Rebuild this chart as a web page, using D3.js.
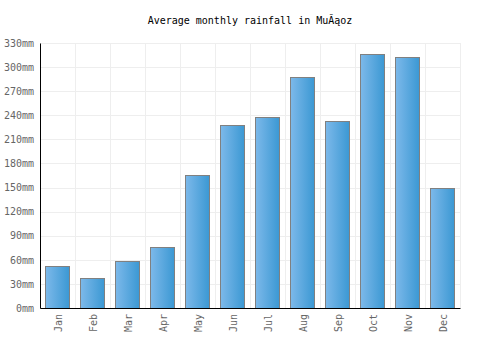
<!DOCTYPE html>
<html>
<head>
<meta charset="utf-8">
<script src="https://cdn.jsdelivr.net/npm/d3@7"></script>
<style>
  body { margin: 0; background: #fff; }
  text { font-family: "DejaVu Sans Mono", monospace; }
</style>
</head>
<body>
<div id="chart"></div>
<script>
const months = ["Jan", "Feb", "Mar", "Apr", "May", "Jun", "Jul", "Aug", "Sep", "Oct", "Nov", "Dec"]
const rainfall = [52, 37, 58, 76, 166, 228, 238, 288, 233, 316, 312, 149]
const yTicks = [0, 30, 60, 90, 120, 150, 180, 210, 240, 270, 300, 330]
const title = "Average monthly rainfall in MuĂąoz"

const width = 500, height = 350
const margin = { top: 43, right: 40, bottom: 42, left: 40 }
const boundedWidth = width - margin.left - margin.right
const boundedHeight = height - margin.top - margin.bottom

const svg = d3.select("#chart").append("svg")
    .attr("width", width)
    .attr("height", height)

// Bar gradient, light on the left to darker on the right
const grad = svg.append("defs").append("linearGradient")
    .attr("id", "barGrad")
    .attr("x1", "0%").attr("x2", "100%")
    .attr("y1", "0%").attr("y2", "0%")
grad.append("stop").attr("offset", "0%").attr("stop-color", "#7db9ea")
grad.append("stop").attr("offset", "100%").attr("stop-color", "#3b98d3")

svg.append("text")
    .attr("x", width / 2)
    .attr("y", 24)
    .attr("text-anchor", "middle")
    .style("font-size", "10px")
    .attr("fill", "#000")
    .text(title)

const bounds = svg.append("g")
    .attr("transform", `translate(${margin.left},${margin.top})`)

const xScale = d3.scaleBand()
    .domain(months)
    .range([0, boundedWidth])
    .paddingInner(0.31)
    .paddingOuter(0.155)
const yScale = d3.scaleLinear()
    .domain([0, 330])
    .range([boundedHeight, 0])

// Grid
bounds.append("g")
  .selectAll("line")
  .data(yTicks)
  .join("line")
    .attr("x1", 0).attr("x2", boundedWidth)
    .attr("y1", d => Math.round(yScale(d)) + 0.5)
    .attr("y2", d => Math.round(yScale(d)) + 0.5)
    .attr("stroke", "#eeeeee")

const step = xScale.step()
bounds.append("g")
  .selectAll("line")
  .data(d3.range(1, months.length + 1))
  .join("line")
    .attr("x1", d => Math.round(d * step) + 0.5)
    .attr("x2", d => Math.round(d * step) + 0.5)
    .attr("y1", 0).attr("y2", boundedHeight)
    .attr("stroke", "#eeeeee")

// Bars
bounds.append("g")
  .selectAll("rect")
  .data(rainfall)
  .join("rect")
    .attr("x", (d, i) => Math.round(xScale(months[i])) + 0.5)
    .attr("y", d => Math.round(yScale(d)) + 0.5)
    .attr("width", Math.round(xScale.bandwidth()))
    .attr("height", d => boundedHeight - Math.round(yScale(d)))
    .attr("fill", "url(#barGrad)")
    .attr("stroke", "#808080")
    .attr("stroke-width", 1)

// Axes
const yAxis = bounds.append("g")
    .call(d3.axisLeft(yScale).tickValues(yTicks).tickSize(0).tickPadding(6)
      .tickFormat(d => d + "mm"))
yAxis.select(".domain").attr("stroke", "#000")
yAxis.selectAll("text")
    .attr("fill", "#666")
    .style("font-size", "10px")
    .style("font-family", "DejaVu Sans Mono, monospace")

const xAxis = bounds.append("g")
    .attr("transform", `translate(0,${boundedHeight})`)
    .call(d3.axisBottom(xScale).tickSize(0).tickPadding(0))
xAxis.select(".domain").attr("stroke", "#000")
xAxis.selectAll("text")
    .attr("fill", "#666")
    .style("font-size", "10px")
    .style("font-family", "DejaVu Sans Mono, monospace")
    .attr("text-anchor", "end")
    .attr("dy", null)
    .attr("transform", "translate(4,6) rotate(-90)")
</script>
</body>
</html>
